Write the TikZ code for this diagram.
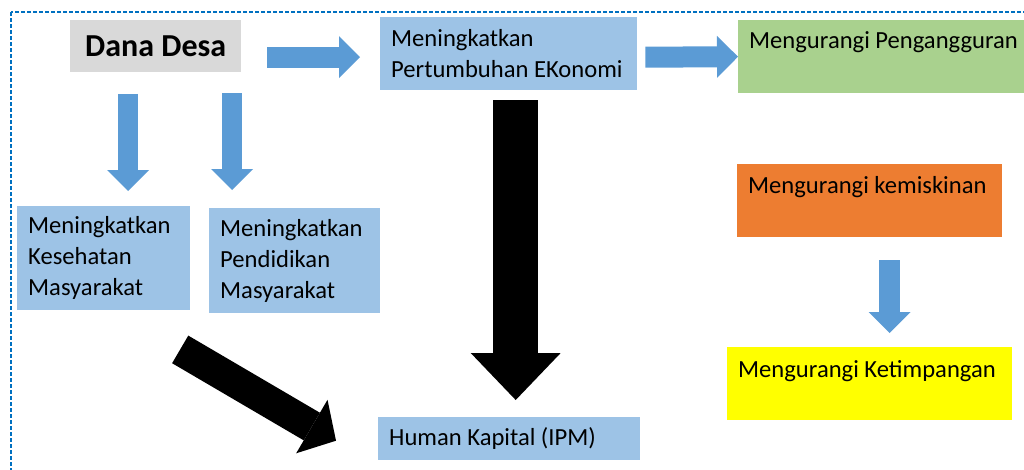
\documentclass[tikz,border=0pt]{standalone}
\usepackage{fontspec}
\setmainfont{Carlito}
\usepackage{tikz}
\usetikzlibrary{arrows.meta}
\usepackage{xcolor}

\definecolor{boxgray}{HTML}{D9D9D9}
\definecolor{boxblue}{HTML}{9DC3E6}
\definecolor{boxgreen}{HTML}{A9D18E}
\definecolor{boxorange}{HTML}{ED7D31}
\definecolor{boxyellow}{HTML}{FFFF00}
\definecolor{arrowblue}{HTML}{5B9BD5}
\definecolor{frameblue}{HTML}{0070C0}

\begin{document}
\begin{tikzpicture}[x=1pt,y=-1pt,
	box/.style={anchor=north west,inner xsep=11pt,inner ysep=0pt,align=flush left,
		font=\fontsize{24.6}{31}\selectfont},
	bluearrow/.style={draw=arrowblue,line width=21pt,
		-{Triangle[length=21pt,width=42pt,line width=0pt]}},
	blackarrow/.style={draw=black,line width=45pt,
		-{Triangle[length=47pt,width=90pt,line width=0pt]}},
	diagarrow/.style={draw=black,line width=32pt,
		-{Triangle[length=28pt,width=62pt,line width=0pt]}}]
	
	\clip (0,0) rectangle (1024,469);
	
	% Dashed frame, running off the right and bottom edges
	\draw[frameblue,line width=1.5pt,dash pattern=on 4pt off 2pt] (11,12) rectangle (1040,490);
	
	% Top row
	\node[anchor=north west,fill=boxgray,minimum width=171pt,minimum height=52pt,inner sep=0pt,
		font=\bfseries\fontsize{32}{38}\selectfont] (dana) at (70,20) {Dana Desa};
	\node[box,fill=boxblue,text width=235pt,minimum height=73pt] (ekonomi) at (380,17)
		{Meningkatkan\\Pertumbuhan EKonomi};
	\node[box,fill=boxgreen,text width=300pt,text height=28pt,text depth=45pt] (kerja) at (738,20)
		{Mengurangi Pengangguran};
	
	% Middle row
	\node[box,fill=boxblue,text width=151pt,minimum height=104pt] (sehat) at (17,206)
		{Meningkatkan\\Kesehatan\\Masyarakat};
	\node[box,fill=boxblue,text width=149pt,minimum height=105pt] (didik) at (209,208)
		{Meningkatkan\\Pendidikan\\Masyarakat};
	\node[box,fill=boxorange,text width=243pt,text height=29pt,text depth=44pt] (miskin) at (737,164)
		{Mengurangi kemiskinan};
	
	% Bottom row
	\node[box,fill=boxblue,text width=240pt,minimum height=43pt] (ipm) at (378,417)
		{Human Kapital (IPM)};
	\node[box,fill=boxyellow,text width=263pt,text height=30pt,text depth=43pt] (timpang) at (727,347)
		{Mengurangi Ketimpangan};
	
	% Blue block arrows
	\draw[bluearrow] ([xshift=26pt,yshift=-11pt]dana.east) -- ([xshift=-20pt,yshift=-3.5pt]ekonomi.west);
	\draw[bluearrow] ([xshift=8pt,yshift=-3.5pt]ekonomi.east) -- (kerja.west);
	\draw[bluearrow,line width=20pt] ([xshift=-27.5pt,yshift=-21.5pt]dana.south) -- ([xshift=24.5pt,yshift=15pt]sehat.north);
	\draw[bluearrow,line width=20pt] ([xshift=76.5pt,yshift=-21pt]dana.south) -- ([xshift=-62.5pt,yshift=18pt]didik.north);
	\draw[bluearrow] ([xshift=20pt,yshift=-23pt]miskin.south) -- ([xshift=20pt,yshift=14pt]timpang.north);
	
	% Black block arrows into human capital
	\draw[blackarrow] ([xshift=7pt,yshift=-10pt]ekonomi.south) -- ([xshift=6.5pt,yshift=17pt]ipm.north);
	\draw[diagarrow] ([xshift=76.5pt,yshift=-39pt]sehat.south) -- ([xshift=-42pt,yshift=-2pt]ipm.west);
	
\end{tikzpicture}
\end{document}
